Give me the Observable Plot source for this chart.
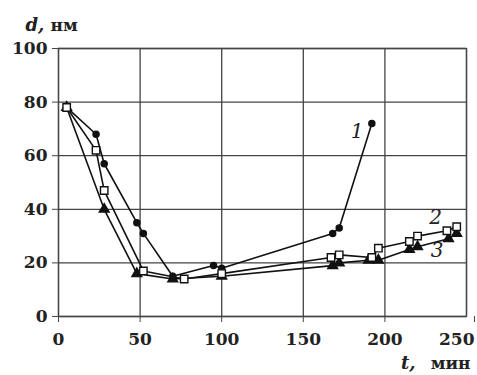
<!DOCTYPE html>
<html>
<head>
<meta charset="utf-8">
<script src="https://cdn.jsdelivr.net/npm/d3@7"></script>
<script src="https://cdn.jsdelivr.net/npm/@observablehq/plot@0.6"></script>
<style>
  html, body { margin: 0; padding: 0; background: #fff; }
</style>
</head>
<body>
<div id="chart"></div>
<script>
const xTicks = [0, 50, 100, 150, 200, 250];
const yTicks = [0, 20, 40, 60, 80, 100];

const s1t = [5, 23, 28, 48, 52, 70, 95, 100, 168, 172, 192];
const s1d = [78, 68, 57, 35, 31, 15, 19, 18, 31, 33, 72];

const s2t = [5, 23, 28, 52, 77, 100, 167, 172, 192, 196, 215, 220, 238, 244];
const s2d = [78, 62, 47, 17, 14, 16, 22, 23, 22, 25.5, 28, 30, 32, 33.5];

const s3t = [5, 28, 48, 70, 100, 168, 172, 190, 196, 215, 220, 239, 244];
const s3d = [78, 40, 16, 14, 15, 19, 20, 21, 21, 25, 26, 29, 31];

const seriesLabels = ["1", "2", "3"];
const labelT = [183, 231, 232];
const labelD = [69, 37, 24.5];

const toRows = (ts, ds) => ts.map((t, i) => ({t, d: ds[i]}));
const r1 = toRows(s1t, s1d), r2 = toRows(s2t, s2d), r3 = toRows(s3t, s3d);
const labs = seriesLabels.map((s, i) => ({s, t: labelT[i], d: labelD[i]}));

const font = "DejaVu Serif, Liberation Serif, serif";
const tickFont = 17;

const chart = Plot.plot({
  width: 477,
  height: 375,
  marginLeft: 58,
  marginRight: 11,
  marginTop: 48,
  marginBottom: 59,
  style: {fontFamily: font, fontSize: "17px", color: "#222", background: "#fff"},
  x: {domain: [0, 250], ticks: xTicks},
  y: {domain: [0, 100], ticks: yTicks},
  marks: [
    Plot.gridX(xTicks, {stroke: "#444", strokeOpacity: 1, strokeWidth: 1.3}),
    Plot.gridY(yTicks, {stroke: "#444", strokeOpacity: 1, strokeWidth: 1.3}),
    Plot.frame({stroke: "#444", strokeWidth: 1.3}),
    Plot.axisX(xTicks.slice(0, -1), {tickSize: 6, tickPadding: 10, label: null, stroke: "#444", fill: "#222", fontSize: tickFont, fontWeight: "bold"}),
    Plot.axisX(xTicks.slice(-1), {tickSize: 6, tickPadding: 10, label: null, stroke: "#444", fill: "#222", fontSize: tickFont, fontWeight: "bold", textAnchor: "end", dx: 8}),
    Plot.axisY({ticks: yTicks, tickSize: 6, tickPadding: 5, label: null, stroke: "#444", fill: "#222", fontSize: tickFont, fontWeight: "bold"}),
    Plot.line(r3, {x: "t", y: "d", stroke: "#111", strokeWidth: 1.6}),
    Plot.line(r2, {x: "t", y: "d", stroke: "#111", strokeWidth: 1.6}),
    Plot.line(r1, {x: "t", y: "d", stroke: "#111", strokeWidth: 1.6}),
    Plot.dot(r3, {x: "t", y: "d", symbol: "triangle", r: 3.6, fill: "#111", stroke: "#111"}),
    Plot.dot(r1, {x: "t", y: "d", symbol: "circle", r: 3, fill: "#111", stroke: "#111"}),
    Plot.dot(r2, {x: "t", y: "d", symbol: "square", r: 4.2, fill: "#fff", stroke: "#111", strokeWidth: 1.4}),
    Plot.text(labs, {x: "t", y: "d", text: "s", fontStyle: "italic", fontSize: 20, fill: "#222"}),
    Plot.text(["d,"], {x: () => 0, y: () => 100, dx: -33, dy: -23, textAnchor: "start", fontStyle: "italic", fontWeight: "bold", fontSize: 18, fill: "#222"}),
    Plot.text(["нм"], {x: () => 0, y: () => 100, dx: -8, dy: -23, textAnchor: "start", fontWeight: "bold", fontSize: 17, fill: "#222"}),
    Plot.text(["t,"], {x: () => 250, y: () => 0, dx: -51, dy: 47, textAnchor: "end", fontStyle: "italic", fontWeight: "bold", fontSize: 18, fill: "#222"}),
    Plot.text(["мин"], {x: () => 250, y: () => 0, dx: 4, dy: 47, textAnchor: "end", fontWeight: "bold", fontSize: 17, fill: "#222"})
  ]
});
document.getElementById("chart").appendChild(chart);
</script>
</body>
</html>
